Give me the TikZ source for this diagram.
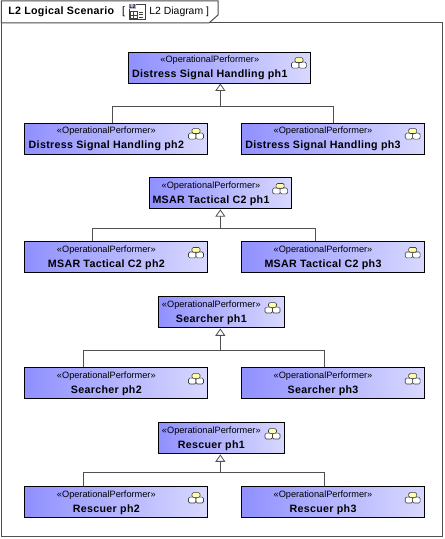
\documentclass[tikz,border=0pt]{standalone}
\usepackage{fontspec}
\setmainfont{Liberation Sans}
\usetikzlibrary{arrows.meta, positioning}
\definecolor{frameline}{HTML}{505050}
\definecolor{boxleft}{HTML}{9090FF}
\definecolor{boxright}{HTML}{D8D8FF}
\definecolor{iconyellow}{HTML}{FFFFA8}
% one line for the stereotype, one for the name; the kern leaves room for the icon
\newcommand{\perf}[1]{\begin{tabular}{@{}c@{}}{\fontsize{6.9pt}{8pt}\selectfont «OperationalPerformer»}\\[1.4pt] \bfseries\addfontfeature{LetterSpace=3}#1\end{tabular}\kern14.5pt}
\tikzset{
  conn/.style={draw=frameline, line width=0.6pt},
  genline/.style={conn, -{Triangle[open, fill=white, length=5.5pt, width=7.5pt]}},
  perficon/.pic={
    \draw[draw=black!75, line width=0.45pt, fill=white, rounded corners=1pt] (-5.6pt,-4.4pt) rectangle (0pt,0pt);
    \draw[draw=black!75, line width=0.45pt, fill=white, rounded corners=1pt] (0pt,-4.4pt) rectangle (5.6pt,0pt);
    \draw[draw=black!75, line width=0.45pt, fill=iconyellow, rounded corners=1pt] (-3pt,-0.2pt) rectangle (3pt,3.4pt);
  }
}
\begin{document}
\begin{tikzpicture}[node distance=1cm, auto, >=Stealth,
    box/.style={rectangle, draw=black, line width=0.75pt, left color=boxleft, right color=boxright, inner sep=0pt, minimum height=23.25pt, font=\fontsize{8pt}{9.5pt}\selectfont},
    wide/.style={box, minimum width=137.25pt}]
  \useasboundingbox (0,0) rectangle (333.75pt,404.25pt);
  \fill[white] (0,0) rectangle (333.75pt,404.25pt);
  % frame with its name tab
  \draw[frameline, line width=0.75pt] (1pt,1.5pt) rectangle (331.5pt,387pt);
  \draw[black!70, line width=0.75pt, fill=white] (1pt,387pt) -- (1pt,403.5pt) -- (163.5pt,403.5pt) -- (163.5pt,393pt) -- (156.75pt,387pt) -- cycle;
  \node[anchor=west, inner sep=0pt, font=\fontsize{8pt}{9.5pt}\selectfont\bfseries\addfontfeature{LetterSpace=3}] (T) at (6pt,395.5pt) {L2 Logical Scenario};
  \node[right=5.5pt of T, inner sep=0pt, font=\fontsize{8pt}{9.5pt}\selectfont] (B) {[};
  \node[draw=black!75, line width=0.45pt, fill=white, right=2.5pt of B, minimum width=12pt, minimum height=11.25pt, inner sep=0pt] (I) {};
  \node[anchor=north west, inner sep=0.4pt, fill=black!25, font=\fontsize{4pt}{4pt}\selectfont\bfseries, text=blue!40!black] (L) at (I.north west) {L2};
  \draw[black!75, line width=0.4pt] ([shift={(1pt,1pt)}]I.south west) rectangle ([shift={(6.5pt,6pt)}]I.south west);
  \draw[black!75, line width=0.4pt] ([shift={(3.75pt,1pt)}]I.south west) -- ([shift={(3.75pt,6pt)}]I.south west);
  \draw[black!75, line width=0.4pt] ([shift={(1pt,3.5pt)}]I.south west) -- ([shift={(6.5pt,3.5pt)}]I.south west);
  \foreach \yy in {1.5pt,3.5pt,5.5pt}
    \draw[black!75, line width=0.5pt] ([shift={(7.5pt,\yy)}]I.south west) -- ([shift={(11pt,\yy)}]I.south west);
  \node[right=3pt of I, inner sep=0pt, font=\fontsize{7.8pt}{9.5pt}\selectfont] (N) {L2 Diagram ]};
  % Distress group
  \node[box, minimum width=136.5pt] (D1) at (164.6pt,353.6pt) {\perf{Distress Signal Handling ph1}};
  \node[wide, below=29.25pt of D1.south, anchor=north, xshift=-77.6pt] (D2) {\perf{Distress Signal Handling ph2}};
  \node[wide, below=29.25pt of D1.south, anchor=north, xshift=84.9pt] (D3) {\perf{Distress Signal Handling ph3}};
  % MSAR group
  \node[box, minimum width=106.5pt] (M1) at (165.5pt,259.25pt) {\perf{MSAR Tactical C2 ph1}};
  \node[wide, below=24pt of M1.south, anchor=north, xshift=-78.5pt] (M2) {\perf{MSAR Tactical C2 ph2}};
  \node[wide, below=24pt of M1.south, anchor=north, xshift=84pt] (M3) {\perf{MSAR Tactical C2 ph3}};
  % Searcher group
  \node[box, minimum width=94.5pt] (S1) at (165.75pt,169.9pt) {\perf{Searcher ph1}};
  \node[wide, below=29.25pt of S1.south, anchor=north, xshift=-78.75pt] (S2) {\perf{Searcher ph2}};
  \node[wide, below=29.25pt of S1.south, anchor=north, xshift=83.75pt] (S3) {\perf{Searcher ph3}};
  % Rescuer group
  \node[box, minimum width=94.5pt] (R1) at (165.75pt,75.4pt) {\perf{Rescuer ph1}};
  \node[wide, below=24pt of R1.south, anchor=north, xshift=-78.75pt] (R2) {\perf{Rescuer ph2}};
  \node[wide, below=24pt of R1.south, anchor=north, xshift=83.75pt] (R3) {\perf{Rescuer ph3}};
  % icons
  \foreach \nd in {D1,D2,D3,M1,M2,M3,S1,S2,S3,R1,R2,R3}
    \pic at ([xshift=-9pt,yshift=-8pt]\nd.north east) {perficon};
  % generalisations
  \coordinate (JD) at (165.25pt,324.75pt);
  \coordinate (JM) at (165.25pt,233pt);
  \coordinate (JS) at (165.25pt,141.5pt);
  \coordinate (JR) at (165.25pt,50pt);
  \draw[conn] (84pt,0 |- D2.north) |- (JD);
  \draw[conn] (250pt,0 |- D3.north) |- (JD);
  \draw[genline] (JD) -- (JD |- D1.south);
  \draw[conn] (69.5pt,0 |- M2.north) |- (JM);
  \draw[conn] (236.75pt,0 |- M3.north) |- (JM);
  \draw[genline] (JM) -- (JM |- M1.south);
  \draw[conn] (62.5pt,0 |- S2.north) |- (JS);
  \draw[conn] (243pt,0 |- S3.north) |- (JS);
  \draw[genline] (JS) -- (JS |- S1.south);
  \draw[conn] (62.5pt,0 |- R2.north) |- (JR);
  \draw[conn] (243pt,0 |- R3.north) |- (JR);
  \draw[genline] (JR) -- (JR |- R1.south);
\end{tikzpicture}
\end{document}
